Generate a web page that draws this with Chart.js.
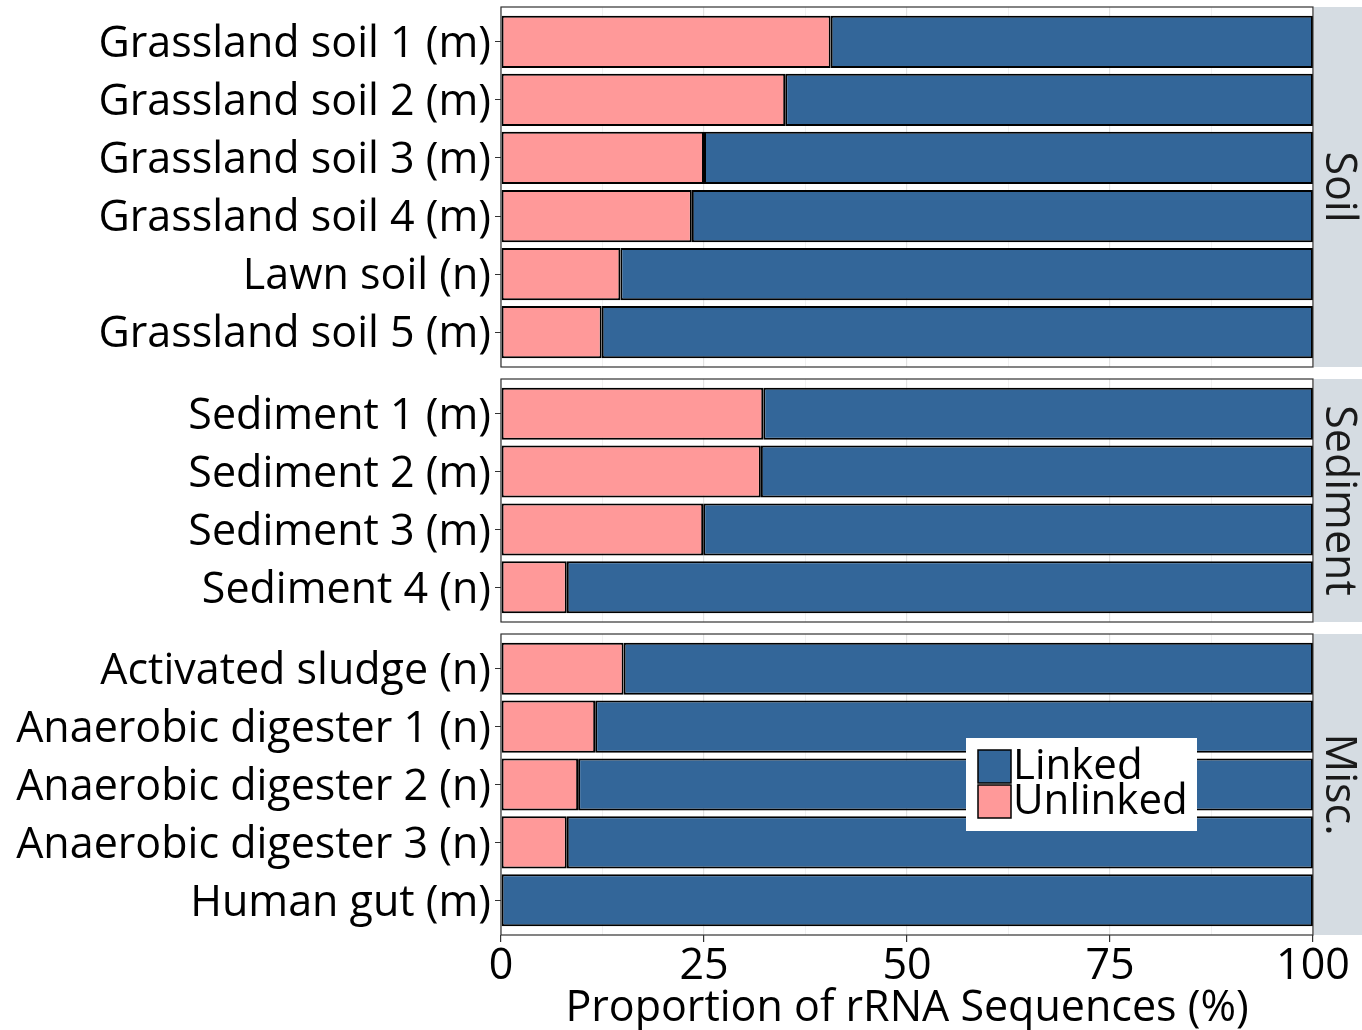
<!DOCTYPE html>
<html>
<head>
<meta charset="utf-8">
<script src="https://cdn.jsdelivr.net/npm/chart.js@4"></script>
<style>
  body { margin: 0; background: #fff; }
  #wrap { position: relative; width: 1362px; height: 1030px; }
  #wrap canvas { position: absolute; left: 0; }
</style>
</head>
<body>
<div id="wrap">
  <canvas id="c1" style="top:0px"></canvas>
  <canvas id="c2" style="top:372px"></canvas>
  <canvas id="c3" style="top:627px"></canvas>
</div>
<script>
// facet groups, sample labels and % of unlinked rRNA sequences
const soilLabels = ['Grassland soil 1 (m)', 'Grassland soil 2 (m)', 'Grassland soil 3 (m)',
  'Grassland soil 4 (m)', 'Lawn soil (n)', 'Grassland soil 5 (m)'];
const soilUnlinked = [40.6, 35.0, 25.0, 23.5, 14.7, 12.4];

const sedimentLabels = ['Sediment 1 (m)', 'Sediment 2 (m)', 'Sediment 3 (m)', 'Sediment 4 (n)'];
const sedimentUnlinked = [32.3, 32.0, 24.9, 8.1];

const miscLabels = ['Activated sludge (n)', 'Anaerobic digester 1 (n)', 'Anaerobic digester 2 (n)',
  'Anaerobic digester 3 (n)', 'Human gut (m)'];
const miscUnlinked = [15.1, 11.6, 9.5, 8.1, 0];

const facetNames = ['Soil', 'Sediment', 'Misc.'];
const xTicks = [0, 25, 50, 75, 100];

const FONT = '"Open Sans", Lato, sans-serif';
const FS = 43;
const BLUE = '#336699';
const PINK = '#FF9999';

const stripPlugin = {
  id: 'strip',
  afterDraw(chart, args, opts) {
    const { ctx, chartArea: a } = chart;
    ctx.save();
    // panel border
    ctx.strokeStyle = '#333333';
    ctx.lineWidth = 1.2;
    ctx.strokeRect(a.left, a.top, a.right - a.left, a.bottom - a.top);
    // strip on the right
    ctx.fillStyle = '#D5DCE2';
    ctx.fillRect(a.right + 1, a.top, chart.width - a.right - 1, a.bottom - a.top);
    ctx.translate(a.right + 1 + (chart.width - a.right - 1) / 2, (a.top + a.bottom) / 2);
    ctx.rotate(Math.PI / 2);
    ctx.fillStyle = '#1a1a1a';
    ctx.font = FS + 'px ' + FONT;
    ctx.textAlign = 'center';
    ctx.textBaseline = 'middle';
    ctx.fillText(opts.text, 0, 0);
    ctx.restore();
  }
};

const legendPlugin = {
  id: 'boxLegend',
  afterDraw(chart, args, opts) {
    if (!opts.show) return;
    const { ctx } = chart;
    const x = 966, y = 738 - 627;
    ctx.save();
    ctx.fillStyle = '#fff';
    ctx.fillRect(x, y, 231, 93);
    const items = [chart.data.datasets[1], chart.data.datasets[0]];
    items.forEach((ds, i) => {
      const sy = y + 12 + i * 35;
      ctx.fillStyle = ds.backgroundColor;
      ctx.fillRect(x + 12, sy, 33, 33);
      ctx.strokeStyle = '#000';
      ctx.lineWidth = 1.5;
      ctx.strokeRect(x + 12, sy, 33, 33);
      ctx.fillStyle = '#000';
      ctx.font = '42px ' + FONT;
      ctx.textBaseline = 'middle';
      ctx.fillText(ds.label, x + 47, sy + 17);
    });
    ctx.restore();
  }
};

function makePanel(id, height, labels, unlinked, facet, bottomAxisHeight, showAxis) {
  const canvas = document.getElementById(id);
  canvas.width = 1362;
  canvas.height = height;
  canvas.style.width = '1362px';
  canvas.style.height = height + 'px';
  const idx = labels.map((_, i) => i);
  return new Chart(canvas, {
    type: 'bar',
    data: {
      datasets: [
        {
          label: 'Unlinked',
          data: idx.map(i => ({ x: unlinked[i], y: i })),
          backgroundColor: PINK,
          borderColor: '#000',
          borderWidth: 2,
          borderSkipped: false,
          barPercentage: 0.9,
          categoryPercentage: 1
        },
        {
          label: 'Linked',
          data: idx.map(i => ({ x: 100 - unlinked[i], y: i })),
          backgroundColor: BLUE,
          borderColor: '#000',
          borderWidth: 2,
          borderSkipped: false,
          barPercentage: 0.9,
          categoryPercentage: 1
        }
      ]
    },
    options: {
      indexAxis: 'y',
      responsive: false,
      animation: false,
      layout: { padding: { top: 7, right: 49, left: 0, bottom: 0 } },
      plugins: {
        legend: { display: false },
        tooltip: { enabled: false },
        strip: { text: facet },
        boxLegend: { show: showAxis }
      },
      scales: {
        x: {
          type: 'linear',
          stacked: true,
          min: 0,
          max: 100,
          afterBuildTicks: (s) => {
            const t = [];
            for (let v = 0; v <= 100; v += 12.5) t.push({ value: v });
            s.ticks = t;
          },
          afterFit: (s) => {
            s.height = bottomAxisHeight;
            s.paddingLeft = 0; s.paddingRight = 0;
          },
          border: { display: false },
          grid: {
            color: (c) => (c.tick && c.tick.value % 25 === 0 ? '#E3E3E3' : '#EEEEEE'),
            lineWidth: (c) => (c.tick && c.tick.value % 25 === 0 ? 1.2 : 0.8),
            tickColor: (c) => (showAxis && c.tick && c.tick.value % 25 === 0 ? '#333333' : 'rgba(0,0,0,0)'),
            tickLength: 7,
            drawTicks: showAxis
          },
          ticks: {
            display: showAxis,
            autoSkip: false,
            maxRotation: 0,
            padding: -1,
            color: '#000',
            font: { family: FONT, size: FS },
            callback: (v) => (xTicks.includes(v) ? String(v) : '')
          },
          title: {
            display: showAxis,
            text: 'Proportion of rRNA Sequences (%)',
            color: '#000',
            padding: { top: -7, bottom: -5 },
            font: { family: FONT, size: FS }
          }
        },
        y: {
          type: 'linear',
          stacked: true,
          reverse: true,
          offset: false,
          min: -0.6,
          max: labels.length - 0.4,
          afterBuildTicks: (s) => { s.ticks = idx.map(i => ({ value: i })); },
          afterFit: (s) => {
            s.width = 501;
            s.paddingTop = 0; s.paddingBottom = 0;
          },
          border: { display: false },
          grid: { offset: false, drawOnChartArea: false, tickLength: 6, tickColor: '#333333' },
          ticks: {
            autoSkip: false,
            padding: 4,
            labelOffset: 3,
            color: '#000',
            font: { family: FONT, size: FS },
            callback: (v) => labels[v]
          }
        }
      }
    },
    plugins: [stripPlugin, legendPlugin]
  });
}

makePanel('c1', 372, soilLabels, soilUnlinked, facetNames[0], 5, false);
makePanel('c2', 255, sedimentLabels, sedimentUnlinked, facetNames[1], 5, false);
makePanel('c3', 403, miscLabels, miscUnlinked, facetNames[2], 95, true);
</script>
</body>
</html>
